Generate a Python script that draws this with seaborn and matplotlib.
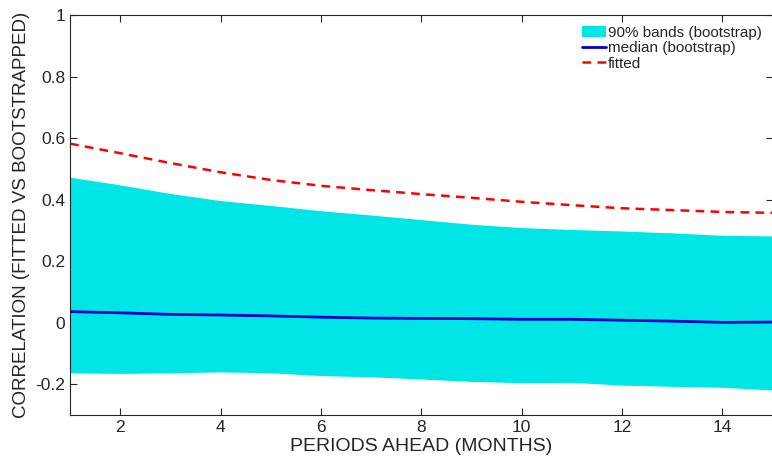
"""
Correlation between fitted and bootstrapped series by forecast horizon.
"""

import pandas as pd
import matplotlib
matplotlib.use("Agg")
import matplotlib.pyplot as plt
import matplotlib.ticker as mticker
import seaborn as sns

periods = [1, 2, 3, 4, 5, 6, 7, 8, 9, 10, 11, 12, 13, 14, 15]
band_upper = [0.473, 0.448, 0.420, 0.397, 0.381, 0.364, 0.350, 0.335, 0.320,
              0.309, 0.303, 0.298, 0.292, 0.284, 0.282]
band_lower = [-0.163, -0.165, -0.163, -0.160, -0.163, -0.172, -0.176, -0.183,
              -0.191, -0.195, -0.194, -0.203, -0.207, -0.210, -0.219]
median_boot = [0.036, 0.032, 0.027, 0.025, 0.022, 0.018, 0.015, 0.014, 0.013,
               0.011, 0.011, 0.008, 0.005, 0.001, 0.002]
fitted = [0.582, 0.551, 0.519, 0.489, 0.464, 0.445, 0.431, 0.418, 0.406,
          0.393, 0.382, 0.372, 0.366, 0.360, 0.357]

df = pd.DataFrame({"period": periods, "lo": band_lower, "hi": band_upper,
                   "median": median_boot, "fitted": fitted})

sns.set_style("ticks")
plt.rcParams["font.family"] = ["Liberation Sans", "DejaVu Sans"]

fig = plt.figure(figsize=(7.72, 4.57), dpi=100)
ax = fig.add_axes([0.0907, 0.092, 0.9100, 0.875])

ax.fill_between(df["period"], df["lo"], df["hi"], color="#00E5E5", lw=0,
                label="90% bands (bootstrap)")
sns.lineplot(data=df, x="period", y="median", ax=ax, color="#0000CC", lw=2,
             label="median (bootstrap)")
sns.lineplot(data=df, x="period", y="fitted", ax=ax, color="#FF0000", lw=1.8,
             dashes=(3.5, 2.5), label="fitted")

ax.set_xlim(1, 15)
ax.set_ylim(-0.3, 1)
ax.set_xticks(range(2, 15, 2))
ax.set_yticks([-0.2, 0, 0.2, 0.4, 0.6, 0.8, 1])
ax.yaxis.set_major_formatter(mticker.FuncFormatter(lambda v, p: f"{v:g}"))
ax.tick_params(direction="in", top=True, right=True, length=5, width=0.8,
               labelsize=12.5, colors="#262626")
for s in ax.spines.values():
    s.set_color("#262626")
    s.set_linewidth(0.8)

ax.set_xlabel("PERIODS AHEAD (MONTHS)", fontsize=14, color="#262626", labelpad=2)
ax.set_ylabel("CORRELATION (FITTED VS BOOTSTRAPPED)", fontsize=13.5,
              color="#262626", labelpad=4)

leg = ax.legend(loc="upper right", frameon=False, fontsize=11,
                handlelength=1.6, handletextpad=0.1, labelspacing=0.1,
                borderaxespad=0.3)

fig.savefig("out.png", dpi=100)
